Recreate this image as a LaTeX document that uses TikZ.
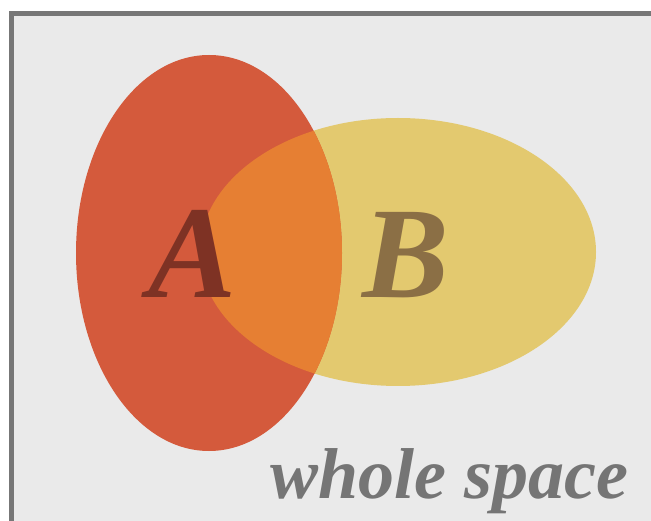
\documentclass[tikz,border=0pt]{standalone}
\usepackage{fontspec}
\setmainfont{Liberation Serif}
\definecolor{bgc}{HTML}{EAEAEA}
\definecolor{framec}{HTML}{777777}
\definecolor{redc}{HTML}{D45A3C}
\definecolor{yelc}{HTML}{E3C96F}
\definecolor{orac}{HTML}{E67F33}
\definecolor{atext}{HTML}{7E3224}
\definecolor{btext}{HTML}{8B6F45}
\definecolor{wtext}{HTML}{757575}
\tikzset{
  lbl/.style={font=\bfseries\itshape, anchor=base, inner sep=0pt},
}
\begin{document}
\begin{tikzpicture}[x=1pt,y=-1pt]
\useasboundingbox (0,0) rectangle (651,521);
\fill[white] (0,0) rectangle (651,521);
\draw[framec, line width=5pt, fill=bgc] (11.5,13.5) rectangle (670,540);
\fill[yelc] (398,252) ellipse [x radius=198, y radius=134];
\fill[redc] (209,253) ellipse [x radius=133, y radius=198];
\begin{scope}
  \clip (209,253) ellipse [x radius=133, y radius=198];
  \fill[orac] (398,252) ellipse [x radius=198, y radius=134];
\end{scope}
\node[lbl, text=atext, font=\fontsize{132}{132}\selectfont\bfseries\itshape] (a) at (193,298) {A};
\node[lbl, text=btext, font=\fontsize{130}{130}\selectfont\bfseries\itshape] (b) at (406,298) {B};
\node[lbl, text=wtext, font=\fontsize{72}{72}\selectfont\bfseries\itshape] (w) at (449,498) {whole space};
\end{tikzpicture}
\end{document}
